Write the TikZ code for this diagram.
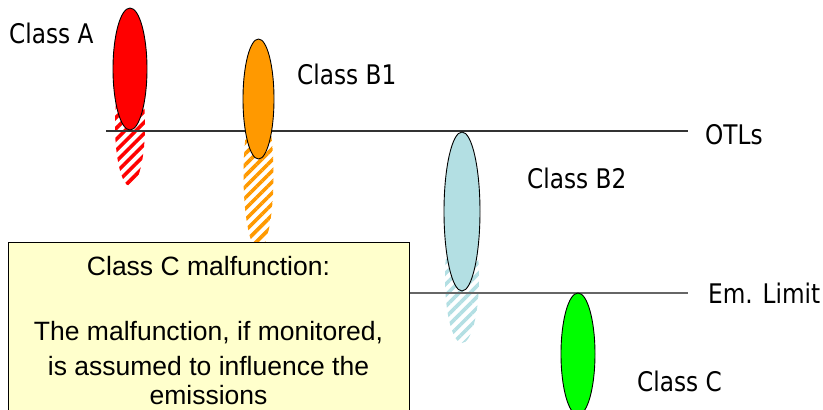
\documentclass[tikz,border=0pt]{standalone}
\usepackage{fontspec}
\setmainfont{Liberation Sans}
\newfontfamily\tagfont[FakeStretch=0.86]{DejaVu Sans}
\definecolor{ClassA} {HTML}{FF0000}
\definecolor{ClassBone}{HTML}{FF9900}
\definecolor{ClassBtwo}{HTML}{B3DFE3}
\definecolor{ClassC} {HTML}{00FF00}
\definecolor{NoteFill}{HTML}{FFFFCC}
\usetikzlibrary{shapes.geometric,patterns.meta}

\begin{document}
\begin{tikzpicture}[x=1pt,y=-1pt,
          pill/.style={ellipse,draw=black,line width=0.9pt,inner sep=0pt},
          tail/.style={pattern={Lines[angle=45,distance=7.8pt,line width=3.6pt]},
                       pattern color=#1},
          level/.style={draw=#1,line width=1.1pt},
          tag/.style={anchor=base west,inner sep=0pt,
                      font=\tagfont\fontsize{27}{32}\selectfont},
          note/.style={draw=black,line width=0.9pt,fill=NoteFill}]
        \useasboundingbox (0,0) rectangle (823,410);
        \clip (0,0) rectangle (823,410);
        % hatched tails below each class
        \fill[tail=ClassA]    (130,125)   ellipse [x radius=15pt,y radius=61pt];
        \fill[tail=ClassBone] (258.5,175) ellipse [x radius=15pt,y radius=75pt];
        \fill[tail=ClassBtwo] (462,278)   ellipse [x radius=17pt,y radius=65pt];
        % threshold lines
        \coordinate (otlL) at (106,131);  \coordinate (otlR) at (688,131);
        \coordinate (emL)  at (106,293);  \coordinate (emR)  at (688,293);
        \draw[level=black!80] (otlL) -- (otlR);
        \draw[level=black!60] (emL) -- (emR);
        % classes
        \node[pill,fill=ClassA,minimum width=34pt,minimum height=122pt] (A) at (130,69) {};
        \node[pill,fill=ClassBone,minimum width=31pt,minimum height=120pt] (B1) at (258.5,99) {};
        \node[pill,fill=ClassBtwo,minimum width=36pt,minimum height=159pt] (B2) at (462,211.5) {};
        \node[pill,fill=ClassC,minimum width=34pt,minimum height=122pt] (C) at (578,354) {};
        % malfunction note
        \draw[note] (8,242) rectangle (409,420);
        \node[anchor=base,align=center,inner sep=0pt,
              font=\fontsize{26.5}{29}\selectfont] (memo) at (208.5,404)
            {Class C malfunction:\\[36pt]
             The malfunction, if monitored,\\[6pt]
             is assumed to influence the\\
             emissions};
        % labels
        \node[tag] (tA)   at (9,43)    {Class A};
        \node[tag] (tB1)  at (297,84)  {Class B1};
        \node[tag] (tB2)  at (527,188) {Class B2};
        \node[tag] (tC)   at (637,391) {Class C};
        \node[tag] (tOTL) at (705,144) {OTLs};
        \node[tag] (tEm)  at (708,303) {Em. Limit};
      \end{tikzpicture}
\end{document}
